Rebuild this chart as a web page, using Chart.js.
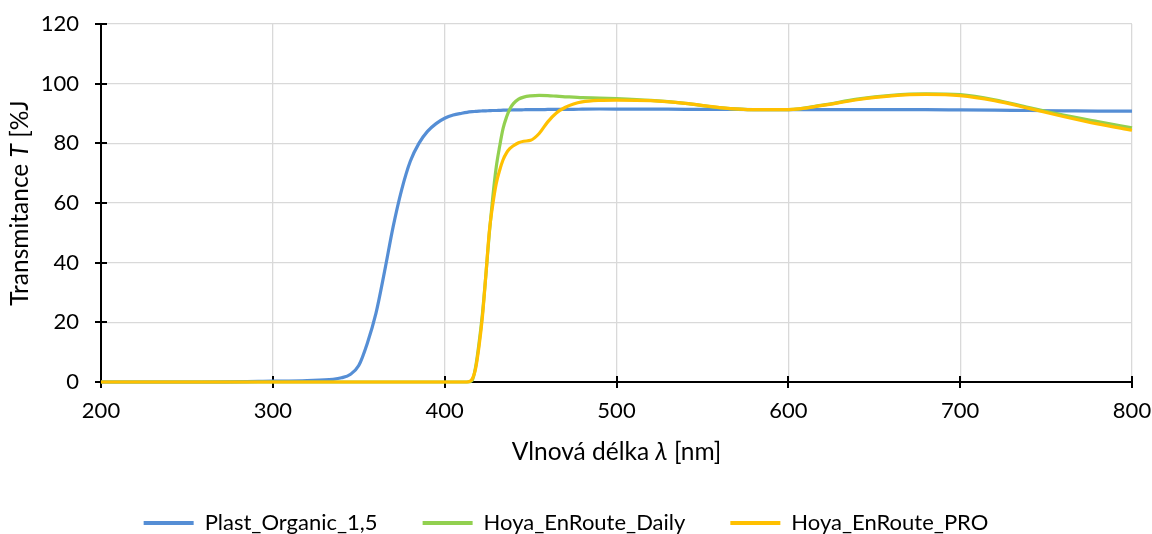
<!DOCTYPE html>
<html>
<head>
<meta charset="utf-8">
<script src="https://cdn.jsdelivr.net/npm/chart.js@4/dist/chart.umd.min.js"></script>
<style>
  html, body { margin: 0; padding: 0; background: #fff; }
</style>
</head>
<body>
<canvas id="spectrum" width="1152" height="534"></canvas>
<script>
'use strict';

// ── Data ──────────────────────────────────────────────────────────────────────

const wavelength = [
  200, 250, 300, 320, 335, 340, 345, 350, 355, 360,
  365, 370, 375, 380, 385, 390, 395, 400, 405, 410,
  413, 416, 418, 420, 422, 424, 426, 428, 430, 432,
  434, 436, 438, 440, 443, 446, 450, 455, 460, 465,
  470, 475, 480, 490, 500, 520, 540, 560, 580, 600,
  620, 640, 660, 680, 700, 720, 740, 760, 780, 800,
];

const plastOrganic = [
  0, 0, 0.3, 0.5, 0.9, 1.4, 2.5, 5.5, 13, 23,
  37, 52, 64.5, 74, 80, 84, 86.6, 88.4, 89.5, 90.1,
  90.4, 90.6, 90.7, 90.8, 90.85, 90.9, 90.95, 91.0, 91.0, 91.05,
  91.1, 91.1, 91.15, 91.2, 91.2, 91.25, 91.3, 91.3, 91.35, 91.4,
  91.4, 91.4, 91.45, 91.5, 91.5, 91.5, 91.4, 91.4, 91.3, 91.3,
  91.3, 91.3, 91.3, 91.3, 91.2, 91.1, 91.0, 90.9, 90.8, 90.8,
];

const hoyaDaily = [
  0, 0, 0, 0, 0, 0, 0, 0, 0, 0,
  0, 0, 0, 0, 0, 0, 0, 0, 0, 0,
  0, 0.5, 5, 13, 23, 36, 50, 62, 72, 79,
  85, 88.8, 91.6, 93.3, 94.8, 95.5, 95.9, 96.1, 96.0, 95.8,
  95.6, 95.5, 95.3, 95.2, 95.0, 94.4, 93.4, 92.0, 91.3, 91.3,
  92.8, 94.8, 96.1, 96.6, 96.3, 94.6, 92.0, 89.5, 87.3, 85.2,
];

const hoyaPro = [
  0, 0, 0, 0, 0, 0, 0, 0, 0, 0,
  0, 0, 0, 0, 0, 0, 0, 0, 0, 0,
  0, 1, 4.5, 12, 22, 36, 50.5, 59.5, 66.5, 71,
  74.5, 76.8, 78.3, 79.2, 80.2, 80.7, 81.0, 83.3, 87.2, 90.2,
  92.0, 93.2, 93.9, 94.4, 94.5, 94.3, 93.4, 92.0, 91.3, 91.3,
  92.7, 94.6, 95.9, 96.4, 96.0, 94.3, 91.7, 89.0, 86.5, 84.4,
];

const seriesNames = ['Plast_Organic_1,5', 'Hoya_EnRoute_Daily', 'Hoya_EnRoute_PRO'];
const xTicks = [200, 300, 400, 500, 600, 700, 800];
const yTicks = [0, 20, 40, 60, 80, 100, 120];

// ── Styling ──────────────────────────────────────────────────────────────────

const FONT = 'Lato, "Open Sans", sans-serif';
const COLORS = ['#558ED5', '#92D050', '#FFC000'];
const AREA_BOTTOM = 382;
const PAD_BOTTOM = -10;

function toPoints(values) {
  return values.map((v, i) => ({ x: wavelength[i], y: v }));
}

// title with an italic symbol in the middle
function drawMixed(ctx, parts, cx, cy, size) {
  const fontOf = p => (p.italic ? 'italic ' : '') + size + 'px ' + FONT;
  let total = 0;
  parts.forEach(p => { ctx.font = fontOf(p); total += ctx.measureText(p.text).width; });
  let x = cx - total / 2;
  ctx.textBaseline = 'middle';
  ctx.textAlign = 'left';
  parts.forEach(p => {
    ctx.font = fontOf(p);
    ctx.fillText(p.text, x, cy);
    x += ctx.measureText(p.text).width;
  });
}

// cross tick marks on both axes + axis titles
const axisExtras = {
  id: 'axisExtras',
  beforeDatasetsDraw(chart) {
    const { ctx, scales: { x, y }, chartArea: a } = chart;
    ctx.save();
    ctx.strokeStyle = '#000';
    ctx.lineWidth = 2;
    ctx.beginPath();
    y.ticks.forEach(t => {
      const py = Math.round(y.getPixelForValue(t.value));
      ctx.moveTo(a.left - 6, py); ctx.lineTo(a.left + 6, py);
    });
    x.ticks.forEach(t => {
      const px = Math.round(x.getPixelForValue(t.value));
      ctx.moveTo(px, a.bottom - 6); ctx.lineTo(px, a.bottom + 6);
    });
    ctx.stroke();
    ctx.restore();
  },
  afterDraw(chart) {
    const { ctx, chartArea: a } = chart;
    ctx.save();
    ctx.fillStyle = '#000';
    drawMixed(ctx, [
      { text: 'Vlnová délka ' }, { text: 'λ', italic: true }, { text: ' [nm]' },
    ], (a.left + a.right) / 2, 452, 24.5);
    ctx.translate(20, (a.top + a.bottom) / 2);
    ctx.rotate(-Math.PI / 2);
    drawMixed(ctx, [
      { text: 'Transmitance ' }, { text: 'T', italic: true }, { text: ' [%J' },
    ], 0, 0, 24.5);
    ctx.restore();
  },
};

// ── Chart ────────────────────────────────────────────────────────────────────

const seriesValues = [plastOrganic, hoyaDaily, hoyaPro];

new Chart(document.getElementById('spectrum'), {
  type: 'line',
  data: {
    datasets: seriesValues.map((vals, i) => ({
      label: seriesNames[i],
      data: toPoints(vals),
      borderColor: COLORS[i],
      backgroundColor: COLORS[i],
      borderWidth: 3.2,
      pointRadius: 0,
      cubicInterpolationMode: 'monotone',
      clip: false,
      order: 3 - i,
    })),
  },
  options: {
    responsive: false,
    animation: false,
    layout: {
      autoPadding: false,
      padding: { top: 24, right: 20, left: 0, bottom: PAD_BOTTOM },
    },
    plugins: {
      tooltip: { enabled: false },
      legend: {
        position: 'bottom',
        labels: {
          color: '#000',
          font: { family: FONT, size: 22 },
          boxWidth: 50,
          boxHeight: 4,
          padding: 45,
          sort: (a, b) => a.datasetIndex - b.datasetIndex,
          generateLabels: chart => Chart.defaults.plugins.legend.labels
            .generateLabels(chart)
            .map(l => ({ ...l, lineWidth: 0, fillStyle: l.strokeStyle })),
        },
      },
    },
    scales: {
      x: {
        type: 'linear',
        min: xTicks[0],
        max: xTicks[xTicks.length - 1],
        afterBuildTicks: s => { s.ticks = xTicks.map(v => ({ value: v })); },
        afterFit: s => {
          const lh = s.chart.legend ? s.chart.legend.height : 0;
          s.height = s.chart.height - AREA_BOTTOM - lh - PAD_BOTTOM;
          s.paddingLeft = 0;
          s.paddingRight = 0;
        },
        ticks: { color: '#000', font: { family: FONT, size: 22 }, padding: 16, maxRotation: 0 },
        grid: { color: '#d9d9d9', lineWidth: 1.3, drawTicks: false },
        border: { color: '#000', width: 2 },
      },
      y: {
        min: yTicks[0],
        max: yTicks[yTicks.length - 1],
        afterBuildTicks: s => { s.ticks = yTicks.map(v => ({ value: v })); },
        afterFit: s => {
          s.width = 101;
          s.paddingTop = 0;
          s.paddingBottom = 0;
        },
        ticks: { color: '#000', font: { family: FONT, size: 22 }, padding: 22 },
        grid: { color: '#d9d9d9', lineWidth: 1.3, drawTicks: false },
        border: { color: '#000', width: 2 },
      },
    },
  },
  plugins: [axisExtras],
});
</script>
</body>
</html>
